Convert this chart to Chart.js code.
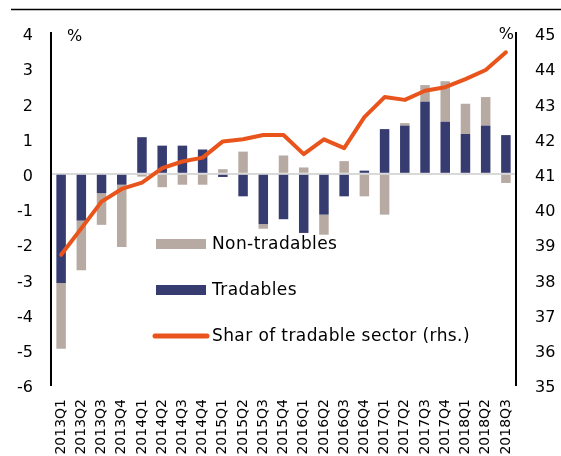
<!DOCTYPE html>
<html>
<head>
<meta charset="utf-8">
<script src="https://cdn.jsdelivr.net/npm/chart.js@4.4.1/dist/chart.umd.min.js"></script>
<style>
  html, body { margin: 0; padding: 0; background: #fff; }
  #wrap { width: 561px; height: 456px; position: relative; }
</style>
</head>
<body>
<div id="wrap"><canvas id="chart" width="561" height="456"></canvas></div>
<script>
// data
const quarters = ['2013Q1','2013Q2','2013Q3','2013Q4','2014Q1','2014Q2','2014Q3','2014Q4',
  '2015Q1','2015Q2','2015Q3','2015Q4','2016Q1','2016Q2','2016Q3','2016Q4',
  '2017Q1','2017Q2','2017Q3','2017Q4','2018Q1','2018Q2','2018Q3'];
const tradables = [-3.10,-1.33,-0.55,-0.31,1.04,0.80,0.80,0.69,-0.09,-0.64,-1.43,-1.29,
  -1.68,-1.16,-0.64,0.09,1.27,1.37,2.05,1.48,1.13,1.37,1.10];
const nonTradables = [-1.87,-1.41,-0.90,-1.77,-0.08,-0.38,-0.31,-0.31,0.13,0.63,-0.13,0.52,
  0.18,-0.57,0.36,-0.64,-1.16,0.07,0.47,1.15,0.86,0.81,-0.26];
const tradableShare = [38.70,39.45,40.21,40.57,40.75,41.16,41.35,41.46,41.92,41.98,42.10,42.10,
  41.56,41.98,41.73,42.61,43.18,43.10,43.36,43.46,43.69,43.95,44.45];
const leftTicks = [-6,-5,-4,-3,-2,-1,0,1,2,3,4];
const rightTicks = [35,36,37,38,39,40,41,42,43,44,45];

const NAVY = '#363b70';
const GREY = '#b7aaa3';
const ORANGE = '#e9541c';
const FONT = '"DejaVu Sans", sans-serif';

// legend inside the plot + the top rule and % signs
const extras = {
  id: 'extras',
  afterDraw(chart) {
    const ctx = chart.ctx;
    ctx.save();
    // top rule
    ctx.strokeStyle = '#000';
    ctx.lineWidth = 1.5;
    ctx.beginPath();
    ctx.moveTo(11, 9.5);
    ctx.lineTo(561, 9.5);
    ctx.stroke();

    ctx.fillStyle = '#000';
    ctx.font = '16px ' + FONT;
    ctx.textBaseline = 'middle';
    ctx.textAlign = 'left';
    ctx.fillText('%', 67, 37);
    ctx.textAlign = 'right';
    ctx.fillText('%', 514, 35);

    // legend
    const order = [1, 0, 2];
    const rows = [244, 290, 336];
    ctx.font = '17px ' + FONT;
    ctx.letterSpacing = '0.4px';
    ctx.textAlign = 'left';
    order.forEach((di, i) => {
      const ds = chart.data.datasets[di];
      const y = rows[i];
      if (ds.type === 'line') {
        ctx.strokeStyle = ds.borderColor;
        ctx.lineWidth = 5;
        ctx.lineCap = 'round';
        ctx.beginPath();
        ctx.moveTo(155, y);
        ctx.lineTo(207, y);
        ctx.stroke();
      } else {
        ctx.fillStyle = ds.backgroundColor;
        ctx.fillRect(156, y - 5, 50, 10);
      }
      ctx.fillStyle = '#000';
      ctx.fillText(ds.label, 212, y + 1);
    });
    ctx.restore();
  }
};

const ctx = document.getElementById('chart').getContext('2d');
const chart = new Chart(ctx, {
  data: {
    labels: quarters,
    datasets: [
      {
        type: 'bar',
        label: 'Tradables',
        data: tradables,
        backgroundColor: NAVY,
        yAxisID: 'y',
        order: 1,
        categoryPercentage: 1,
        barPercentage: 0.47
      },
      {
        type: 'bar',
        label: 'Non-tradables',
        data: nonTradables,
        backgroundColor: GREY,
        yAxisID: 'y',
        order: 1,
        categoryPercentage: 1,
        barPercentage: 0.47
      },
      {
        type: 'line',
        label: 'Shar of tradable sector (rhs.)',
        data: tradableShare,
        borderColor: ORANGE,
        backgroundColor: ORANGE,
        borderWidth: 4,
        borderCapStyle: 'round',
        borderJoinStyle: 'round',
        pointRadius: 0,
        tension: 0,
        yAxisID: 'y1',
        order: 0
      }
    ]
  },
  options: {
    responsive: false,
    animation: false,
    layout: { padding: { top: 33, left: 0, right: 0, bottom: 0 } },
    plugins: {
      legend: { display: false },
      tooltip: { enabled: false }
    },
    scales: {
      x: {
        stacked: true,
        offset: true,
        grid: { display: false, drawTicks: false },
        border: { display: false },
        ticks: {
          color: '#000',
          font: { family: FONT, size: 14 },
          minRotation: 90,
          maxRotation: 90,
          autoSkip: false,
          padding: 14
        },
        afterFit(scale) { scale.height = 71; }
      },
      y: {
        position: 'left',
        stacked: true,
        min: leftTicks[0],
        max: leftTicks[leftTicks.length - 1],
        afterBuildTicks(scale) { scale.ticks = leftTicks.map(v => ({ value: v })); },
        grid: {
          drawTicks: false,
          lineWidth: 2,
          color: c => (c.tick && c.tick.value === 0) ? '#d9d9d9' : 'rgba(0,0,0,0)'
        },
        border: { display: true, color: '#000', width: 2 },
        ticks: {
          color: '#000',
          font: { family: FONT, size: 16 },
          padding: 18,
          labelOffset: 3
        },
        afterFit(scale) { scale.width = 51; }
      },
      y1: {
        position: 'right',
        min: rightTicks[0],
        max: rightTicks[rightTicks.length - 1],
        afterBuildTicks(scale) { scale.ticks = rightTicks.map(v => ({ value: v })); },
        grid: { display: false, drawTicks: false },
        border: { display: true, color: '#000', width: 2 },
        ticks: {
          color: '#000',
          font: { family: FONT, size: 16 },
          padding: 19,
          labelOffset: 3
        },
        afterFit(scale) { scale.width = 45; }
      }
    }
  },
  plugins: [extras]
});
</script>
</body>
</html>
